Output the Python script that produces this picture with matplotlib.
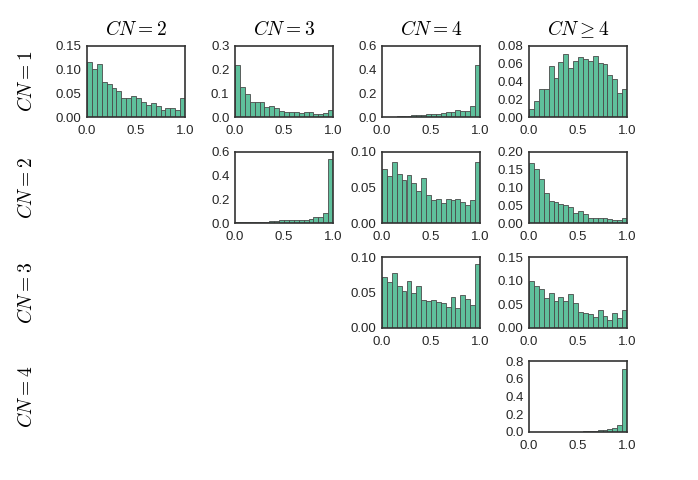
import numpy as np
import matplotlib
matplotlib.use('Agg')
import matplotlib.pyplot as plt

plt.rcParams['font.family'] = ['Liberation Sans', 'DejaVu Sans']
plt.rcParams['mathtext.fontset'] = 'cm'

# bin edges of the histograms (20 bins on [0, 1])
edges = np.linspace(0, 1, 21)

col_titles = [r'$CN=2$', r'$CN=3$', r'$CN=4$', r'$CN\geq4$']
row_labels = [r'$CN=1$', r'$CN=2$', r'$CN=3$', r'$CN=4$']

# (row, col): bar heights
h_1_2 = [0.117, 0.101, 0.112, 0.073, 0.070, 0.062, 0.054, 0.040, 0.040, 0.044,
         0.041, 0.031, 0.026, 0.029, 0.024, 0.014, 0.018, 0.020, 0.015, 0.040]
h_1_3 = [0.220, 0.127, 0.099, 0.064, 0.064, 0.063, 0.043, 0.046, 0.036, 0.024,
         0.022, 0.022, 0.022, 0.015, 0.020, 0.021, 0.014, 0.014, 0.015, 0.031]
h_1_4 = [0.001, 0.001, 0.003, 0.005, 0.008, 0.012, 0.017, 0.020, 0.020, 0.022,
         0.025, 0.028, 0.037, 0.040, 0.040, 0.056, 0.050, 0.053, 0.096, 0.442]
h_1_5 = [0.0094, 0.0177, 0.031, 0.032, 0.057, 0.044, 0.062, 0.071, 0.055, 0.063,
         0.068, 0.065, 0.063, 0.069, 0.061, 0.060, 0.047, 0.043, 0.027, 0.031]
h_2_3 = [0.006, 0.005, 0.009, 0.006, 0.008, 0.008, 0.011, 0.017, 0.017, 0.023,
         0.023, 0.026, 0.026, 0.029, 0.029, 0.035, 0.052, 0.052, 0.087, 0.537]
h_2_4 = [0.076, 0.066, 0.086, 0.069, 0.061, 0.068, 0.057, 0.045, 0.063, 0.039,
         0.033, 0.034, 0.028, 0.034, 0.033, 0.034, 0.029, 0.025, 0.033, 0.086]
h_2_5 = [0.169, 0.152, 0.124, 0.085, 0.061, 0.058, 0.054, 0.050, 0.044, 0.029,
         0.033, 0.025, 0.015, 0.015, 0.015, 0.013, 0.011, 0.009, 0.008, 0.013]
h_3_4 = [0.072, 0.065, 0.078, 0.059, 0.052, 0.066, 0.049, 0.059, 0.040, 0.038,
         0.039, 0.036, 0.035, 0.029, 0.043, 0.028, 0.046, 0.041, 0.033, 0.090]
h_3_5 = [0.100, 0.088, 0.082, 0.064, 0.074, 0.057, 0.066, 0.058, 0.071, 0.052,
         0.034, 0.031, 0.030, 0.023, 0.038, 0.025, 0.016, 0.031, 0.021, 0.037]
h_4_5 = [0.001, 0.001, 0.001, 0.002, 0.002, 0.002, 0.002, 0.002, 0.003, 0.004,
         0.005, 0.006, 0.008, 0.012, 0.018, 0.025, 0.035, 0.050, 0.082, 0.710]

panels = {
    (0, 0): (h_1_2, [0, 0.05, 0.10, 0.15], '%.2f'),
    (0, 1): (h_1_3, [0, 0.1, 0.2, 0.3], '%.1f'),
    (0, 2): (h_1_4, [0, 0.2, 0.4, 0.6], '%.1f'),
    (0, 3): (h_1_5, [0, 0.02, 0.04, 0.06, 0.08], '%.2f'),
    (1, 1): (h_2_3, [0, 0.2, 0.4, 0.6], '%.1f'),
    (1, 2): (h_2_4, [0, 0.05, 0.10], '%.2f'),
    (1, 3): (h_2_5, [0, 0.05, 0.10, 0.15, 0.20], '%.2f'),
    (2, 2): (h_3_4, [0, 0.05, 0.10], '%.2f'),
    (2, 3): (h_3_5, [0, 0.05, 0.10, 0.15], '%.2f'),
    (3, 3): (h_4_5, [0, 0.2, 0.4, 0.6, 0.8], '%.1f'),
}

W, H = 698, 480
fig = plt.figure(figsize=(W / 100, H / 100), dpi=100)

col_left = [87, 235, 382, 529]
row_top = [46, 152, 257, 361]
aw, ah = 98, 71

for (r, c), (vals, yt, fmt) in panels.items():
    ax = fig.add_axes([col_left[c] / W, 1 - (row_top[r] + ah) / H, aw / W, ah / H])
    ax.bar(edges[:-1], vals, width=edges[1] - edges[0], align='edge',
           color='#5fc09c', edgecolor='#4a4a4a', linewidth=0.6)
    ax.set_xlim(0, 1)
    ax.set_ylim(yt[0], yt[-1])
    ax.set_yticks(yt)
    ax.set_yticklabels([fmt % v for v in yt])
    ax.set_xticks([0, 0.5, 1.0])
    ax.set_xticklabels(['0.0', '0.5', '1.0'])
    ax.tick_params(length=0, labelsize=9.5, colors='#262626')
    ax.tick_params(axis='x', pad=6)
    ax.tick_params(axis='y', pad=4)
    for s in ax.spines.values():
        s.set_color('#333333')
        s.set_linewidth(1.2)
    if r == 0:
        ax.set_title(col_titles[c], fontsize=14, pad=8)

for r in range(4):
    yc = 1 - (row_top[r] + ah / 2) / H
    fig.text(26 / W, yc, row_labels[r], rotation=90, fontsize=14,
             ha='center', va='center')

fig.savefig('out.png', dpi=100)
